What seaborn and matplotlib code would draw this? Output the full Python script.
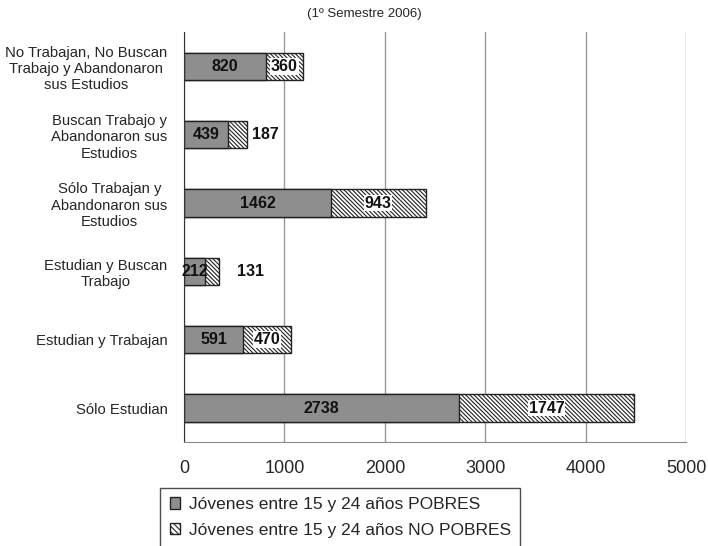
import seaborn as sns
import matplotlib.pyplot as plt
import pandas as pd
from matplotlib.patches import Patch

categorias = ['No Trabajan, No Buscan\nTrabajo y Abandonaron\nsus Estudios',
              'Buscan Trabajo y\nAbandonaron sus\nEstudios',
              'Sólo Trabajan y\nAbandonaron sus\nEstudios',
              'Estudian y Buscan\nTrabajo',
              'Estudian y Trabajan',
              'Sólo Estudian']
pobres = [820, 439, 1462, 212, 591, 2738]
no_pobres = [360, 187, 943, 131, 470, 1747]
x_ticks = [0, 1000, 2000, 3000, 4000, 5000]
leyenda = ['Jóvenes entre 15 y 24 años POBRES',
           'Jóvenes entre 15 y 24 años NO POBRES']

sns.set_style('white')
plt.rcParams['font.family'] = ['Liberation Sans', 'DejaVu Sans']
plt.rcParams['hatch.linewidth'] = 0.8

df = pd.DataFrame({'cat': categorias, 'pobres': pobres, 'no_pobres': no_pobres})
df['total'] = df['pobres'] + df['no_pobres']

fig = plt.figure(figsize=(7.08, 5.46), dpi=100)
ax = fig.add_axes([0.26, 0.19, 0.709, 0.751])

# barra total (rayada) y encima la de pobres (gris)
sns.barplot(data=df, y='cat', x='total', ax=ax, color='white', width=0.4,
            edgecolor='#222222', linewidth=1, hatch='\\' * 8, saturation=1)
sns.barplot(data=df, y='cat', x='pobres', ax=ax, color='#8e8e8e', width=0.4,
            edgecolor='#222222', linewidth=1, saturation=1)

for i, r in df.iterrows():
    ax.text(r['pobres'] / 2, i, str(r['pobres']), ha='center', va='center',
            fontsize=11.5, fontweight='bold', color='#111111')
    if r['no_pobres'] < 200:
        # etiquetas que no entran, fuera de la barra
        xpos = r['total'] + (180 if r['no_pobres'] > 150 else 320)
        ax.text(xpos, i, str(r['no_pobres']), ha='center', va='center',
                fontsize=11.5, fontweight='bold', color='#111111')
    else:
        ax.text(r['pobres'] + r['no_pobres'] / 2, i, str(r['no_pobres']),
                ha='center', va='center', fontsize=11.5, fontweight='bold',
                color='#111111',
                bbox=dict(boxstyle='square,pad=0.05', fc='white', ec='none'))

ax.set_xlim(0, 5000)
ax.set_ylim(len(categorias) - 0.5, -0.5)
ax.set_xticks(x_ticks)
ax.set_xticklabels([str(v) for v in x_ticks], fontsize=13)
ax.set_xlabel('')
ax.set_ylabel('')
ax.tick_params(axis='y', length=0, labelsize=10.7, pad=12)
ax.set_yticks(range(len(categorias)))
ax.set_yticklabels(categorias, ha='right', multialignment='center')
ax.set_yticks([k - 0.5 for k in range(len(categorias) + 1)], minor=True)
ax.tick_params(axis='y', which='minor', length=4, width=1, color='#333333')
ax.tick_params(axis='x', length=6, width=1, color='#777777', direction='out', pad=7)

ax.grid(axis='x', color='#999999', linewidth=1)
ax.set_axisbelow(True)
ax.spines['top'].set_visible(False)
ax.spines['right'].set_visible(False)
ax.spines['left'].set_color('#333333')
ax.spines['bottom'].set_color('#888888')

fig.text(0.515, 0.975, '(1º Semestre 2006)', ha='center', va='center', fontsize=9.5)

handles = [Patch(facecolor='#8e8e8e', edgecolor='#222222'),
           Patch(facecolor='white', edgecolor='#222222', hatch='\\' * 6)]
fig.legend(handles, leyenda, loc='upper left', bbox_to_anchor=(0.226, 0.107),
           fontsize=12.5, frameon=True, fancybox=False, edgecolor='#222222',
           handlelength=0.6, handleheight=0.6, handletextpad=0.5,
           borderpad=0.55, labelspacing=0.6, borderaxespad=0)

fig.savefig('out.png', dpi=100)
